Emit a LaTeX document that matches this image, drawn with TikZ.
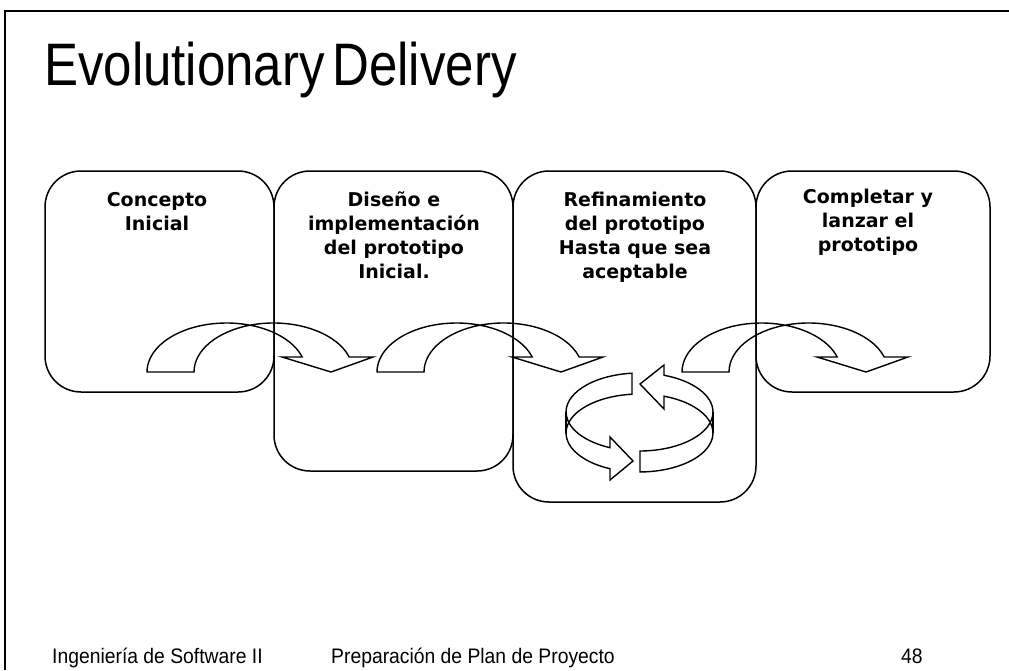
\documentclass[tikz,border=0pt]{standalone}
\usepackage{fontspec}
\usepackage{graphicx}
\setmainfont{Liberation Sans}
\newfontfamily\boxfont{DejaVu Sans}

\begin{document}
\begin{tikzpicture}[x=1pt,y=-1pt]
\tikzstyle{blk}=[draw, line width=1.5pt, rounded corners=36pt, inner sep=0pt]
\tikzstyle{lbl}=[anchor=north, inner sep=0pt, align=center,
                        font=\boxfont\bfseries\fontsize{19}{24}\selectfont]
\tikzstyle{foot}=[anchor=base west, inner sep=0pt, font=\fontsize{21}{22}\selectfont]
\tikzstyle{crv}=[line width=1.4pt, line join=miter]
	\useasboundingbox (0,0) rectangle (1009,670);
	\draw[line width=1.5pt] (5,670) -- (5,11) -- (1009,11);
	\node[anchor=base west, inner sep=0pt, font=\fontsize{60}{62}\selectfont] (titulo) at (44,85)
		{\scalebox{0.85}[1]{Evolutionary\hspace{0.15em}Delivery}};
	\node[blk, minimum width=229pt, minimum height=221pt] (concepto) at (159.5,281.5){};
	\node[blk, minimum width=239pt, minimum height=300pt] (diseno) at (393.5,321){};
	\node[blk, minimum width=243pt, minimum height=331pt] (refina) at (634.5,336.5){};
	\node[blk, minimum width=234pt, minimum height=221pt] (lanzar) at (873,281.5){};
	\node[lbl] (tconcepto) at (157,192){Concepto\\Inicial};
	\node[lbl] (tdiseno) at (394,192){Diseño e\\implementación\\del prototipo\\Inicial.};
	\node[lbl] (trefina) at (635,192){Refinamiento\\del prototipo\\Hasta que sea\\aceptable};
	\node[lbl] (tlanzar) at (868,189){Completar y\\lanzar el\\prototipo};
\foreach \x in {147,377,682}
	\draw[crv, shift={(\x,0)}] (0,372)
		arc[start angle=180, end angle=287.2, x radius=79.5, y radius=49]
		arc[start angle=252.8, end angle=342.2, x radius=79.5, y radius=49]
		-- (226,357) -- (184,372) -- (135,357) -- (155.2,357)
		arc[start angle=342.2, end angle=287.2, x radius=79.5, y radius=49]
		arc[start angle=252.8, end angle=180, x radius=79.5, y radius=49] -- cycle;
\begin{scope}[shift={(639.5,412)}]
	\draw[crv] (-7.5,-38.8)
		arc[start angle=264.1, end angle=113.7, x radius=73.5, y radius=39]
		-- (-29.5,25) -- (-6.5,49) -- (-29.5,68) -- (-29.5,56.7)
		arc[start angle=113.7, end angle=264.1, x radius=73.5, y radius=39] -- cycle;
	\draw[crv] (0.5,39)
		arc[start angle=89.6, end angle=-70.5, x radius=73.5, y radius=39]
		-- (24.5,-47) -- (0.5,-28) -- (24.5,-3) -- (24.5,-15.8)
		arc[start angle=-70.5, end angle=89.6, x radius=73.5, y radius=39] -- cycle;
	\draw[crv] (-73.5,0) -- (-73.5,21) (73.5,0) -- (73.5,21);
\end{scope}
	\node[foot] (curso) at (52,663){\scalebox{0.92}[1]{Ingeniería de Software II}};
	\node[foot] (tema) at (331,663){\scalebox{0.92}[1]{Preparación de Plan de Proyecto}};
	\node[foot] (pagina) at (901,663){\scalebox{0.92}[1]{48}};
\end{tikzpicture}
\end{document}
